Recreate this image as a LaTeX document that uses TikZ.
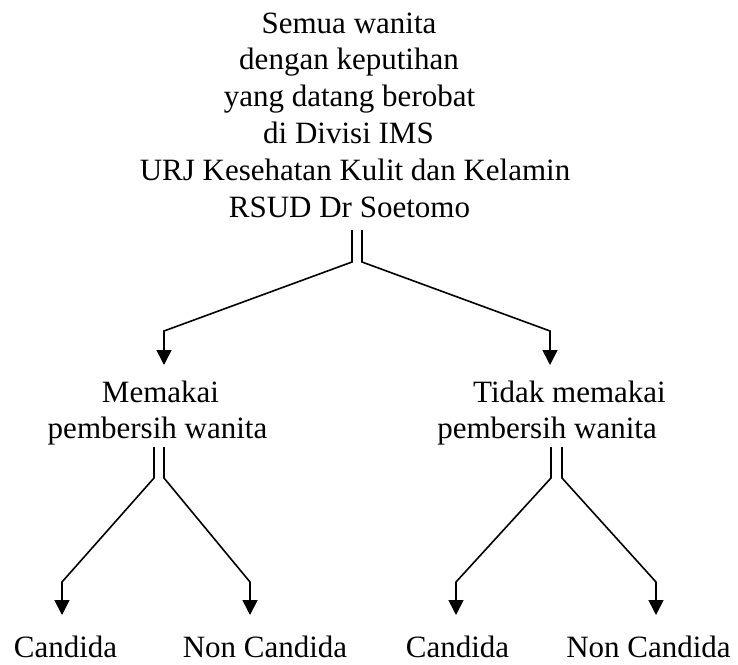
\documentclass[tikz,border=0pt]{standalone}
\usepackage{fontspec}
\setmainfont{Liberation Serif}
\usetikzlibrary{arrows.meta}
\tikzset{
  lbl/.style={anchor=base, inner sep=0pt, font=\fontsize{31}{36.8}\selectfont},
  conn/.style={line width=1.6pt, line join=miter, -{Triangle[width=15pt,length=15pt]}}
}
\begin{document}
\begin{tikzpicture}[x=1pt,y=-1pt]
\useasboundingbox[fill=white] (0,0) rectangle (738,664);
% top block
\node[lbl] (t1) at (349,33) {Semua wanita};
\node[lbl] (t2) at (349,69.8) {dengan keputihan};
\node[lbl] (t3) at (349.5,106.6) {yang datang berobat};
\node[lbl] (t4) at (348.5,143.4) {di Divisi IMS};
\node[lbl] (t5) at (355,180.2) {URJ Kesehatan Kulit dan Kelamin};
\node[lbl] (t6) at (349.5,217) {RSUD Dr Soetomo};
% middle labels
\node[lbl] (m1a) at (160.5,402) {Memakai};
\node[lbl] (m1b) at (157.5,438) {pembersih wanita};
\node[lbl] (m2a) at (569.5,402) {Tidak memakai};
\node[lbl] (m2b) at (547,438) {pembersih wanita};
% bottom labels
\node[lbl] (c1) at (65.5,657) {Candida};
\node[lbl] (c2) at (265,657) {Non Candida};
\node[lbl] (c3) at (457.5,657) {Candida};
\node[lbl] (c4) at (648.5,657) {Non Candida};
% connector points
\coordinate (s1) at (352,230); \coordinate (j1) at (352,262);
\coordinate (s2) at (362,230); \coordinate (j2) at (362,262);
\coordinate (b1) at (164,331); \coordinate (e1) at (164,365);
\coordinate (b2) at (550,331); \coordinate (e2) at (550,365);
\coordinate (s3) at (154,447); \coordinate (j3) at (154,478);
\coordinate (s4) at (164,447); \coordinate (j4) at (164,478);
\coordinate (b3) at (62,582);  \coordinate (e3) at (62,615);
\coordinate (b4) at (250,582); \coordinate (e4) at (250,615);
\coordinate (s5) at (551,447); \coordinate (j5) at (551,478);
\coordinate (s6) at (562,447); \coordinate (j6) at (562,478);
\coordinate (b5) at (456,582); \coordinate (e5) at (456,615);
\coordinate (b6) at (656,582); \coordinate (e6) at (656,615);
% connectors
\draw[conn] (s1) -- (j1) -- (b1) -- (e1);
\draw[conn] (s2) -- (j2) -- (b2) -- (e2);
\draw[conn] (s3) -- (j3) -- (b3) -- (e3);
\draw[conn] (s4) -- (j4) -- (b4) -- (e4);
\draw[conn] (s5) -- (j5) -- (b5) -- (e5);
\draw[conn] (s6) -- (j6) -- (b6) -- (e6);
\end{tikzpicture}
\end{document}
